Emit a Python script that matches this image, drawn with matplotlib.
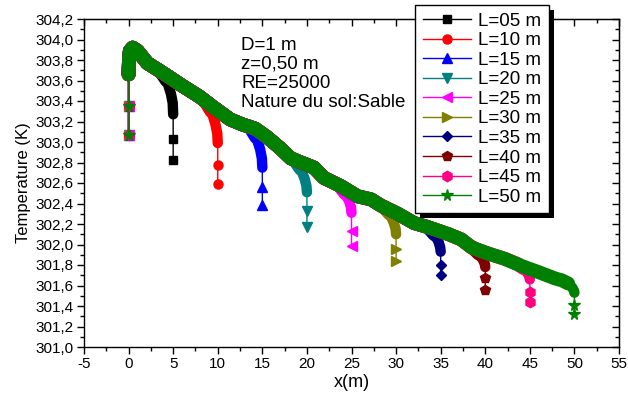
import matplotlib
matplotlib.use("Agg")
import matplotlib.pyplot as plt
from matplotlib.ticker import MultipleLocator, FuncFormatter
from matplotlib.patches import Rectangle
from matplotlib.lines import Line2D

plt.rcParams['font.family'] = ['Liberation Sans', 'DejaVu Sans']

# ---------------- data ----------------
lengths = [5, 10, 15, 20, 25, 30, 35, 40, 45, 50]
labels = ['L=05 m', 'L=10 m', 'L=15 m', 'L=20 m', 'L=25 m',
          'L=30 m', 'L=35 m', 'L=40 m', 'L=45 m', 'L=50 m']
colors = ['#000000', '#FF0000', '#0000FF', '#008080', '#FF00FF',
          '#808000', '#000080', '#800000', '#FF0080', '#008000']
markers = ['s', 'o', '^', 'v', '<', '>', 'D', 'p', 'h', '*']

# common temperature profile along the pipe (dense part of every series)
main_x = [0.0, 0.05, 0.15, 0.45, 1.0, 2.1, 4.1, 6.0, 8.0, 9.5, 11.4, 12.8,
          14.2, 15.5, 17.0, 18.2, 20.8, 21.9, 23.8, 25.7, 27.2, 28.3, 30.2,
          32.0, 33.9, 35.9, 37.3, 38.5, 40.4, 42.2, 44.1, 46.0, 47.8]
main_T = [303.66, 303.80, 303.89, 303.92, 303.89, 303.77, 303.66, 303.55,
          303.44, 303.34, 303.22, 303.17, 303.13, 303.05, 302.94, 302.84,
          302.75, 302.65, 302.57, 302.47, 302.44, 302.38, 302.30, 302.21,
          302.16, 302.10, 302.05, 301.97, 301.91, 301.86, 301.79, 301.73,
          301.67]

# outlet drop of each series (x = L + tail_dx)
tail_dx = [-1.4, -0.7, -0.25, -0.05, 0.0]
tail_T = [
    [303.69, 303.60, 303.47, 303.38, 303.27],
    [303.40, 303.30, 303.17, 303.08, 302.99],
    [303.15, 303.05, 302.93, 302.84, 302.75],
    [302.83, 302.74, 302.64, 302.57, 302.51],
    [302.58, 302.50, 302.42, 302.36, 302.31],
    [302.37, 302.30, 302.21, 302.15, 302.10],
    [302.17, 302.10, 302.03, 301.97, 301.93],
    [301.97, 301.91, 301.85, 301.81, 301.78],
    [301.81, 301.77, 301.72, 301.69, 301.66],
    [301.65, 301.62, 301.58, 301.55, 301.53],
]
# sparse points at the inlet (x=0) and at the outlet (x=L)
start_T = [303.07, 303.35]
end_T = [
    [303.03, 302.82],
    [302.78, 302.59],
    [302.56, 302.39],
    [302.33, 302.17],
    [302.13, 301.99],
    [301.96, 301.84],
    [301.80, 301.70],
    [301.67, 301.56],
    [301.54, 301.44],
    [301.41, 301.32],
]

annot = ['D=1 m', 'z=0,50 m', 'RE=25000', 'Nature du sol:Sable']

# ---------------- figure ----------------
W, H = 628, 400
fig = plt.figure(figsize=(W / 100, H / 100), dpi=100)
ax = fig.add_axes([84 / W, 1 - 347 / H, (619 - 84) / W, (347 - 19) / H])

msizes = {'s': 6, 'o': 6.5, '^': 7, 'v': 7, '<': 7, '>': 7, 'D': 5.5,
          'p': 7.5, 'h': 7.5, '*': 8.5}

for i, L in enumerate(lengths):
    c = colors[i]
    m = markers[i]
    keep = [k for k, x in enumerate(main_x) if x < L + tail_dx[0]]
    mx = [main_x[k] for k in keep]
    mT = [main_T[k] for k in keep]
    tx = [L + d for d in tail_dx]
    tT = tail_T[i]
    z = 2 + i
    # thin connecting line through all points
    ax.plot([0, 0] + mx + tx + [L, L], start_T + mT + tT + end_T[i],
            color=c, lw=1.0, zorder=z)
    # dense marker band (wide along the pipe, narrower at the outlet drop)
    ax.plot(mx + tx[:2], mT + tT[:2], color=c, lw=10, solid_capstyle='round',
            solid_joinstyle='round', zorder=z)
    ax.plot(tx, tT, color=c, lw=7.5, solid_capstyle='round',
            solid_joinstyle='round', zorder=z)
    # sparse markers
    ax.plot([0, 0, L, L], start_T + end_T[i], ls='none', marker=m,
            ms=msizes[m], color=c, mec=c, zorder=z)

ax.set_xlim(-5, 55)
ax.set_ylim(301.0, 304.2)
ax.xaxis.set_major_locator(MultipleLocator(5))
ax.xaxis.set_minor_locator(MultipleLocator(2.5))
ax.yaxis.set_major_locator(MultipleLocator(0.2))
ax.yaxis.set_minor_locator(MultipleLocator(0.1))
ax.yaxis.set_major_formatter(FuncFormatter(lambda v, p: f'{v:.1f}'.replace('.', ',')))
ax.xaxis.set_major_formatter(FuncFormatter(lambda v, p: f'{v:.0f}'))
ax.tick_params(which='both', direction='out', width=1.0, labelsize=11,
               colors='black')
ax.tick_params(which='major', length=5, pad=2.5)
ax.tick_params(which='minor', length=3)
for s in ax.spines.values():
    s.set_linewidth(1.0)

# mirrored inward ticks on top and right
sx = ax.secondary_xaxis('top')
sx.xaxis.set_major_locator(MultipleLocator(5))
sx.xaxis.set_minor_locator(MultipleLocator(2.5))
sx.tick_params(which='both', direction='in', labeltop=False, width=1.0)
sx.tick_params(which='major', length=5)
sx.tick_params(which='minor', length=3)
sy = ax.secondary_yaxis('right')
sy.yaxis.set_major_locator(MultipleLocator(0.2))
sy.yaxis.set_minor_locator(MultipleLocator(0.1))
sy.tick_params(which='both', direction='in', labelright=False, width=1.0)
sy.tick_params(which='major', length=5)
sy.tick_params(which='minor', length=3)

ax.set_xlabel('x(m)', fontsize=13, labelpad=2)
ax.set_ylabel('Temperature (K)', fontsize=12, labelpad=3)

for k, t in enumerate(annot):
    fig.text(241 / W, 1 - (45 + 19.3 * k) / H, t, fontsize=13.5, va='center',
             ha='left')

handles = [Line2D([], [], color=colors[i], lw=1.0, marker=markers[i],
                  ms=msizes[markers[i]], mec=colors[i])
           for i in range(len(lengths))]
leg = fig.legend(handles, labels, loc='upper left',
                 bbox_to_anchor=(415 / W, 1 - 5 / H), fontsize=13.5,
                 frameon=True, fancybox=False, edgecolor='black',
                 framealpha=1, handlelength=2.6, handletextpad=0.36,
                 labelspacing=0.13, borderpad=0.4, borderaxespad=0)
leg.get_frame().set_linewidth(1.0)
leg.set_zorder(6)

fig.canvas.draw()
bb = leg.get_window_extent()
shadow = Rectangle((bb.x0 + 5, bb.y0 - 5), bb.width, bb.height,
                   transform=None, facecolor='black', edgecolor='none',
                   zorder=5)
fig.add_artist(shadow)

fig.savefig('out.png', dpi=100)
